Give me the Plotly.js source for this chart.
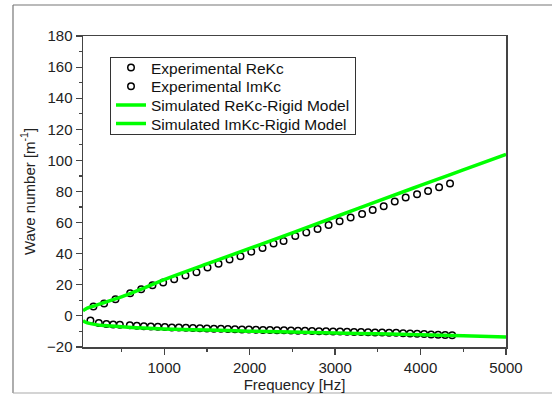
<!DOCTYPE html>
<html>
<head>
<meta charset="utf-8">
<script src="https://cdn.plot.ly/plotly-3.0.1.min.js"></script>
<style>html,body{margin:0;padding:0;background:#fff;}#chart{width:552px;height:394px;}</style>
</head>
<body>
<div id="chart"></div>
<script>
// Experimental real part
const expReFreq = [172, 297, 430, 602, 731, 863, 988, 1117, 1249, 1378, 1507, 1636, 1765, 1893, 2019, 2151, 2280, 2397, 2534, 2663, 2795, 2924, 3053, 3182, 3316, 3440, 3569, 3698, 3826, 3959, 4088, 4217, 4345];
const expReVal  = [6.0, 7.9, 10.7, 14.5, 17.1, 19.7, 21.4, 23.5, 26.0, 28.1, 31.1, 33.5, 36.3, 38.4, 41.3, 43.7, 46.5, 48.2, 51.4, 53.6, 55.9, 58.5, 60.8, 63.2, 65.5, 68.1, 70.5, 73.5, 76.1, 78.2, 80.3, 82.7, 85.1];
// Experimental imaginary part
const expImFreq = [137, 235, 324, 403, 481, 598, 680, 762, 844, 926, 1008, 1090, 1172, 1254, 1336, 1418, 1500, 1582, 1664, 1746, 1828, 1910, 1992, 2074, 2156, 2238, 2320, 2402, 2484, 2566, 2648, 2730, 2812, 2894, 2976, 3058, 3140, 3222, 3304, 3386, 3468, 3550, 3632, 3714, 3796, 3878, 3960, 4042, 4124, 4206, 4288, 4370];
const expImVal  = [-3.0, -4.6, -5.2, -5.5, -5.7, -6.0, -6.3, -6.6, -6.8, -7.0, -7.2, -7.4, -7.5, -7.7, -7.8, -8.0, -8.1, -8.2, -8.3, -8.5, -8.6, -8.7, -8.8, -8.9, -9.0, -9.1, -9.2, -9.3, -9.4, -9.5, -9.6, -9.7, -9.8, -9.9, -10.0, -10.1, -10.2, -10.3, -10.4, -10.5, -10.6, -10.7, -10.8, -10.9, -11.1, -11.3, -11.5, -11.7, -11.9, -12.1, -12.3, -12.5];
// Simulated (rigid model)
const simFreq  = [50, 75, 100, 200, 300, 500, 750, 1000, 1500, 2000, 2500, 3000, 3500, 4000, 4500, 5000];
const simReVal = [3.3, 4.2, 5.0, 6.8, 8.6, 12.2, 17.6, 23.3, 33.4, 43.4, 53.4, 63.6, 73.8, 83.9, 93.9, 103.9];
const simImVal = [-3.0, -3.9, -4.5, -5.6, -6.2, -7.0, -7.8, -8.4, -9.1, -9.8, -10.4, -11.0, -11.5, -12.2, -12.8, -13.5];

const xTicks = [1000, 2000, 3000, 4000, 5000];
const yTicks = [-20, 0, 20, 40, 60, 80, 100, 120, 140, 160, 180];

const FONT = 'Arial, "Liberation Sans", sans-serif';
const GREEN = '#00ff00';
const FS = 15;

const traces = [
  {x: expReFreq, y: expReVal, mode: 'markers', name: 'Experimental ReKc',
   marker: {symbol: 'circle-open', size: 6.5, color: '#000', line: {width: 1.5, color: '#000'}}},
  {x: expImFreq, y: expImVal, mode: 'markers', name: 'Experimental ImKc',
   marker: {symbol: 'circle-open', size: 6.5, color: '#000', line: {width: 1.5, color: '#000'}}},
  {x: simFreq, y: simReVal, mode: 'lines', name: 'Simulated ReKc-Rigid Model',
   line: {color: GREEN, width: 3.5, shape: 'spline'}},
  {x: simFreq, y: simImVal, mode: 'lines', name: 'Simulated ImKc-Rigid Model',
   line: {color: GREEN, width: 3.5, shape: 'spline'}}
];

// pixel-to-paper helpers for the outer frame
const L = 83, R = 46, T = 36, B = 47, W = 552, H = 394;
const pw = W - L - R, ph = H - T - B;
const px = v => (v - L) / pw;
const py = v => (H - B - v) / ph;

const layout = {
  width: W, height: H,
  margin: {l: L, r: R, t: T, b: B, pad: 0},
  paper_bgcolor: '#fff', plot_bgcolor: '#fff',
  font: {family: FONT, size: FS, color: '#222'},
  showlegend: true,
  legend: {x: px(110), y: py(57), xanchor: 'left', yanchor: 'top',
           bgcolor: '#fff', bordercolor: '#333', borderwidth: 1,
           font: {family: FONT, size: 15.5, color: '#111'}, tracegroupgap: 0},
  xaxis: {range: [50, 5000], tickvals: xTicks, ticks: 'outside', ticklen: 6, tickwidth: 1.2,
          tickcolor: '#444', showline: true, linecolor: '#444', linewidth: 1.5, mirror: true,
          showgrid: false, zeroline: false,
          minor: {ticks: 'outside', ticklen: 3, dtick: 500, tick0: 0, tickcolor: '#444', showgrid: false},
          tickfont: {family: FONT, size: FS, color: '#222'},
          title: {text: 'Frequency [Hz]', font: {family: FONT, size: FS, color: '#222'}, standoff: 2}},
  yaxis: {range: [-20, 180], tickvals: yTicks, ticks: 'outside', ticklen: 6, tickwidth: 1.2,
          tickcolor: '#444', showline: true, linecolor: '#444', linewidth: 1.5, mirror: true,
          showgrid: false, zeroline: false,
          minor: {ticks: 'outside', ticklen: 3, dtick: 10, tick0: 0, tickcolor: '#444', showgrid: false},
          tickfont: {family: FONT, size: FS, color: '#222'},
          title: {text: 'Wave number [m<sup>-1</sup>]', font: {family: FONT, size: FS, color: '#222'}, standoff: 8}},
  shapes: [
    {type: 'line', xref: 'paper', yref: 'paper', x0: px(13), x1: px(13), y0: py(5), y1: py(393), line: {color: '#777', width: 1.2}},
    {type: 'line', xref: 'paper', yref: 'paper', x0: px(13), x1: px(552), y0: py(5), y1: py(5), line: {color: '#777', width: 1.2}},
    {type: 'line', xref: 'paper', yref: 'paper', x0: px(13), x1: px(552), y0: py(393), y1: py(393), line: {color: '#aaa', width: 1.2}}
  ]
};

Plotly.newPlot('chart', traces, layout, {displayModeBar: false, staticPlot: true}).then(gd => {
  // tighten legend row spacing to match the reference
  try {
    const items = gd.querySelectorAll('.legend .traces');
    const rowGap = 18.7, firstY = 10.5;
    items.forEach((el, i) => {
      const t = el.getAttribute('transform') || '';
      const m = /translate\(\s*([-\d.]+)[ ,]+([-\d.]+)\s*\)/.exec(t);
      const x = m ? parseFloat(m[1]) : 1;
      el.setAttribute('transform', `translate(${x},${firstY + i * rowGap})`);
    });
    const bg = gd.querySelector('.legend rect.bg');
    if (bg && items.length) {
      const h = firstY + (items.length - 1) * rowGap + 10;
      bg.setAttribute('height', h);
      const clip = document.querySelector('[id^="legend"] rect, clipPath[id*="legend"] rect');
      if (clip) clip.setAttribute('height', h);
    }
  } catch (e) {}
});
</script>
</body>
</html>
